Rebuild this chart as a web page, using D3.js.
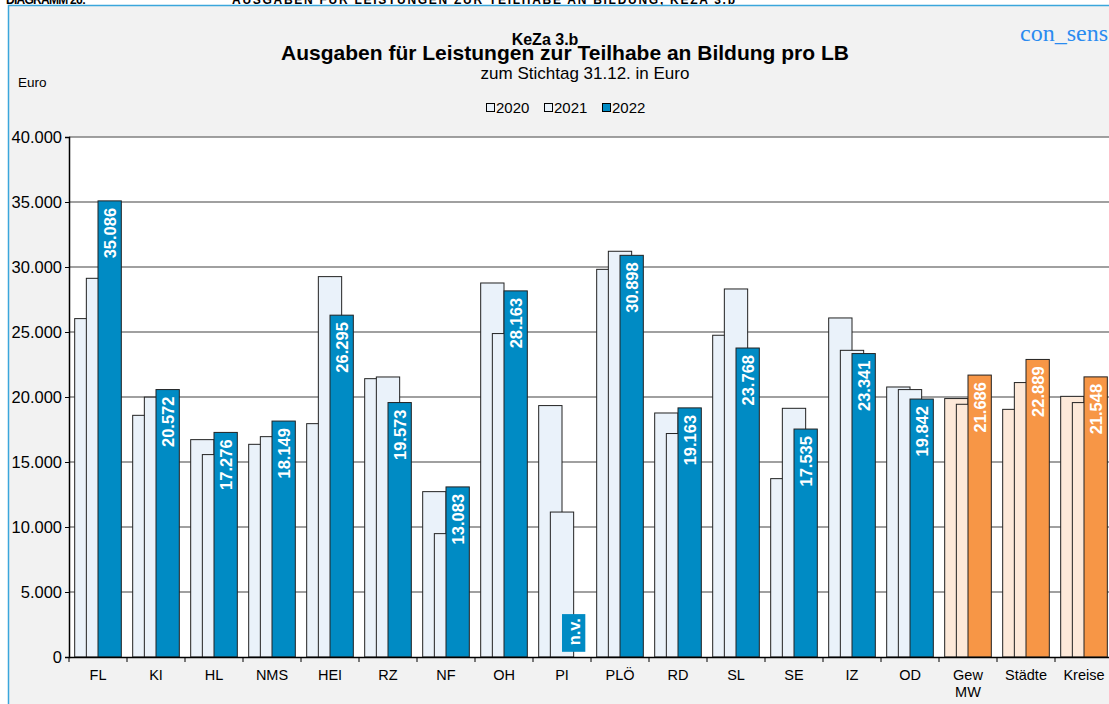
<!DOCTYPE html>
<html>
<head>
<meta charset="utf-8">
<script src="https://cdn.jsdelivr.net/npm/d3@7"></script>
<style>
  body { margin: 0; background: #fff; }
  text { font-family: "Liberation Sans", Arial, sans-serif; }
</style>
</head>
<body>
<svg id="chart" width="1109" height="704"></svg>
<script>
const categories = ["FL", "KI", "HL", "NMS", "HEI", "RZ", "NF", "OH", "PI", "PLÖ", "RD", "SL", "SE", "IZ", "OD", "Gew MW", "Städte", "Kreise"];
const years = ["2020", "2021", "2022"];
const values2020 = [26030, 18590, 16720, 16360, 17950, 21410, 12720, 28770, 19340, 29820, 18770, 24750, 13720, 26080, 20770, 19880, 19050, 20050];
const values2021 = [29130, 19990, 15570, 16950, 29260, 21540, 9490, 24880, 11150, 31210, 17190, 28310, 19130, 23590, 20570, 19440, 21110, 19570];
const values2022 = [35086, 20572, 17276, 18149, 26295, 19573, 13083, 28163, null, 30898, 19163, 23768, 17535, 23341, 19842, 21686, 22889, 21548];
const yTicks = [0, 5000, 10000, 15000, 20000, 25000, 30000, 35000, 40000];
const summaryCats = ["Gew MW", "Städte", "Kreise"];

const colors = {
  light: "#eaf2fa",
  lightOrange: "#fde9d9",
  blue: "#008bc4",
  orange: "#f79646",
  grid: "#808080",
  frame: "#3aa6dc",
};

const fmt = d3.formatLocale({ decimal: ",", thousands: ".", grouping: [3] }).format(",.0f");

const svg = d3.select("#chart");

// Kopfzeile (oben abgeschnitten)
svg.append("text").attr("x", 6).attr("y", 4).attr("font-size", 12).attr("font-weight", "bold")
  .attr("textLength", 80).text("DIAGRAMM 26:");
svg.append("text").attr("x", 232).attr("y", 4).attr("font-size", 12).attr("font-weight", "bold")
  .attr("textLength", 503).text("AUSGABEN FÜR LEISTUNGEN ZUR TEILHABE AN BILDUNG, KEZA 3.b");

// Rahmen
svg.append("rect").attr("x", 8.5).attr("y", 5.5).attr("width", 1120).attr("height", 720)
  .attr("fill", "#f2f2f2").attr("stroke", colors.frame).attr("stroke-width", 1.5);

const x = d3.scaleBand().domain(categories).range([69, 69 + 58 * categories.length]);
const y = d3.scaleLinear().domain([0, 40000]).range([657, 137]);

const bw = x.bandwidth() * 0.402;       // Balkenbreite
const step = bw / 2;                    // 50% Überlappung
const off = (x.bandwidth() - (bw + 2 * step)) / 2;

// Plotfläche
svg.append("rect").attr("x", x.range()[0]).attr("y", y(40000))
  .attr("width", x.range()[1] - x.range()[0]).attr("height", y(0) - y(40000)).attr("fill", "#fff");

// Gitternetz
svg.append("g").selectAll("line").data(yTicks.filter(d => d > 0)).join("line")
  .attr("x1", x.range()[0]).attr("x2", x.range()[1])
  .attr("y1", d => y(d)).attr("y2", d => y(d))
  .attr("stroke", colors.grid).attr("stroke-width", 1.5);

// Titel
svg.append("text").attr("x", 545).attr("y", 45).attr("text-anchor", "middle")
  .attr("font-size", 16).attr("font-weight", "bold").text("KeZa 3.b");
svg.append("text").attr("x", 565).attr("y", 60).attr("text-anchor", "middle")
  .attr("font-size", 21).attr("font-weight", "bold").text("Ausgaben für Leistungen zur Teilhabe an Bildung pro LB");
svg.append("text").attr("x", 585).attr("y", 79).attr("text-anchor", "middle")
  .attr("font-size", 17).text("zum Stichtag 31.12. in Euro");
svg.append("text").attr("x", 1020).attr("y", 41).attr("font-size", 24)
  .style("font-family", "'Liberation Serif', 'DejaVu Serif', serif").attr("fill", "#2a8bf0").text("con_sens");
svg.append("text").attr("x", 18).attr("y", 87).attr("font-size", 13.5).text("Euro");

// Legende
const legendX = [486, 544, 602];
const legendFill = [colors.light, colors.light, colors.blue];
const legend = svg.append("g").selectAll("g").data(years).join("g")
  .attr("transform", (d, i) => `translate(${legendX[i]},0)`);
legend.append("rect").attr("x", 0.5).attr("y", 103.5).attr("width", 8).attr("height", 8)
  .attr("fill", (d, i) => legendFill[i]).attr("stroke", "#000");
legend.append("text").attr("x", 10).attr("y", 113).attr("font-size", 15).text(d => d);

// Balken
const series = [values2020, values2021, values2022];
series.forEach((vals, si) => {
  svg.append("g").selectAll("rect").data(categories).join("rect")
    .filter((c, i) => vals[i] != null)
    .attr("x", c => x(c) + off + si * step)
    .attr("y", c => y(vals[categories.indexOf(c)]))
    .attr("width", bw)
    .attr("height", c => y(0) - y(vals[categories.indexOf(c)]))
    .attr("fill", c => {
      const summary = summaryCats.includes(c);
      if (si < 2) return summary ? colors.lightOrange : colors.light;
      return summary ? colors.orange : colors.blue;
    })
    .attr("stroke", "#222").attr("stroke-width", 1);
});

// Werte im Balken 2022
svg.append("g").selectAll("text").data(categories.filter((c, i) => values2022[i] != null)).join("text")
  .attr("transform", c => {
    const v = values2022[categories.indexOf(c)];
    const cx = x(c) + off + 2 * step + bw / 2;
    return `translate(${cx},${y(v) + 7}) rotate(-90)`;
  })
  .attr("text-anchor", "end").attr("dy", "0.36em")
  .attr("font-size", 16.5).attr("font-weight", "bold").attr("fill", "#fff")
  .text(c => fmt(values2022[categories.indexOf(c)]));

// n.v.-Kasten
categories.forEach((c, i) => {
  if (values2022[i] != null) return;
  const bx = x(c) + off + 2 * step;
  svg.append("rect").attr("x", bx).attr("y", y(3300)).attr("width", bw).attr("height", y(400) - y(3300))
    .attr("fill", colors.blue);
  svg.append("text").attr("transform", `translate(${bx + bw / 2},${y(3300) + 4}) rotate(-90)`)
    .attr("text-anchor", "end").attr("dy", "0.36em")
    .attr("font-size", 16.5).attr("font-weight", "bold").attr("fill", "#fff").text("n.v.");
});

// Achsen
const yAxis = svg.append("g").attr("transform", `translate(${x.range()[0]},0)`)
  .call(d3.axisLeft(y).tickValues(yTicks).tickSize(4).tickFormat(fmt));
yAxis.select(".domain").attr("stroke", "#000").attr("stroke-width", 1.5);
yAxis.selectAll("line").attr("stroke", "#000");
yAxis.selectAll("text").attr("font-size", 16.5).attr("fill", "#000").attr("font-family", "'Liberation Sans', Arial, sans-serif");

const xAxis = svg.append("g").attr("transform", `translate(0,${y(0)})`)
  .call(d3.axisBottom(x).tickSize(0).tickFormat(""));
xAxis.select(".domain").attr("stroke", "#000").attr("stroke-width", 1.5);
xAxis.selectAll(".tick").remove();

svg.append("g").selectAll("line").data(d3.range(categories.length + 1)).join("line")
  .attr("x1", i => x.range()[0] + i * x.step()).attr("x2", i => x.range()[0] + i * x.step())
  .attr("y1", y(0)).attr("y2", y(0) + 5).attr("stroke", "#000");

svg.append("g").selectAll("text").data(categories).join("text")
  .attr("x", c => x(c) + x.bandwidth() / 2).attr("y", 680)
  .attr("text-anchor", "middle").attr("font-size", 14.5)
  .each(function (c) {
    const parts = c.split(" ");
    d3.select(this).selectAll("tspan").data(parts).join("tspan")
      .attr("x", x(c) + x.bandwidth() / 2).attr("dy", (p, j) => j === 0 ? 0 : 17).text(p => p);
  });
</script>
</body>
</html>
